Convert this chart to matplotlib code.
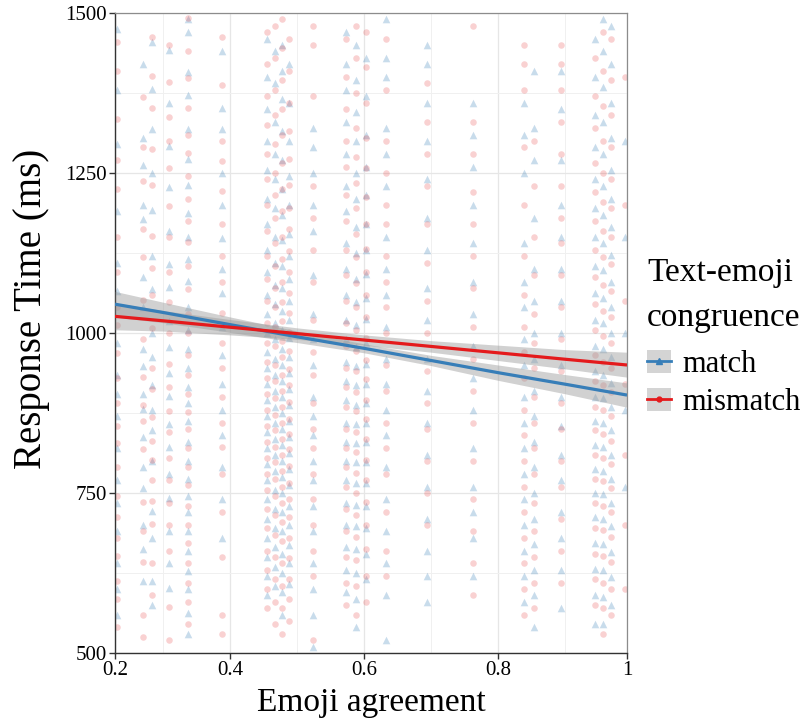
import numpy as np
import matplotlib
matplotlib.use("Agg")
import matplotlib.pyplot as plt
from matplotlib.patches import Patch
from matplotlib.lines import Line2D

plt.rcParams['font.family'] = ['Liberation Serif', 'DejaVu Serif']

# ---------------- data ----------------
x_min, x_max = 0.2277, 0.9924
x_tick_pos = [x_min, 0.4, 0.6, 0.8, x_max]
x_tick_labels = ["0.2", "0.4", "0.6", "0.8", "1"]
y_ticks = [500, 750, 1000, 1250, 1500]

col_x = [0.231, 0.270, 0.283, 0.309, 0.337, 0.388, 0.455, 0.466, 0.477, 0.487,
         0.523, 0.572, 0.587, 0.602, 0.632, 0.694, 0.763, 0.839, 0.854, 0.894,
         0.944, 0.956, 0.969, 0.990]

match_rt = [
    [1475, 1380, 1295, 1190, 1110, 1065, 985, 935, 905, 870, 820, 770, 735, 690, 640, 600, 560],
    [1420, 1305, 1262, 1200, 1178, 1088, 1040, 975, 948, 905, 882, 838, 790, 758, 700, 662, 612],
    [1455, 1382, 1318, 1250, 1192, 1120, 1068, 1000, 962, 918, 880, 848, 800, 722, 680, 612, 575],
    [1442, 1360, 1292, 1228, 1160, 1108, 1072, 1018, 978, 938, 902, 858, 822, 780, 742, 690, 640, 602],
    [1490, 1470, 1408, 1372, 1318, 1272, 1232, 1188, 1150, 1115, 1082, 1040, 1005, 975, 945, 915, 890,
     862, 830, 800, 772, 745, 720, 690, 660, 628, 600, 562, 530],
    [1440, 1352, 1318, 1250, 1200, 1148, 1100, 1062, 1010, 965, 920, 880, 840, 790, 740, 680],
    [1460, 1400, 1350, 1300, 1255, 1210, 1170, 1130, 1095, 1060, 1030, 1000, 970, 945, 920, 895, 870,
     845, 820, 795, 770, 740, 710, 680, 650, 620, 590],
    [1440, 1390, 1330, 1280, 1240, 1195, 1150, 1110, 1075, 1045, 1015, 990, 960, 935, 910, 885, 860,
     835, 810, 785, 755, 725, 695, 665, 635, 605],
    [1450, 1410, 1365, 1315, 1270, 1225, 1185, 1145, 1105, 1070, 1035, 1005, 975, 950, 925, 900, 875,
     850, 825, 800, 775, 750, 720, 690, 655, 625, 595, 560],
    [1420, 1360, 1300, 1245, 1200, 1155, 1120, 1085, 1050, 1020, 992, 962, 938, 912, 888, 862, 838,
     812, 788, 762, 730, 700, 668, 640, 608],
    [1320, 1290, 1250, 1200, 1160, 1090, 1030, 990, 950, 900, 870, 840, 800, 770, 730, 690, 640, 600, 560, 510],
    [1470, 1420, 1380, 1330, 1280, 1230, 1190, 1140, 1100, 1060, 1020, 990, 955, 925, 895, 860, 830,
     800, 770, 735, 700, 665, 630, 595],
    [1450, 1395, 1345, 1300, 1250, 1210, 1165, 1125, 1085, 1048, 1012, 978, 948, 918, 888, 858, 828,
     798, 765, 732, 698, 662, 625, 585, 540],
    [1430, 1370, 1310, 1260, 1215, 1170, 1130, 1092, 1055, 1022, 985, 952, 920, 890, 860, 830, 798,
     765, 730, 695, 655, 615],
    [1490, 1430, 1400, 1320, 1280, 1230, 1150, 1100, 1060, 1010, 960, 920, 880, 840, 790, 740, 690, 640, 590, 520],
    [1450, 1420, 1360, 1300, 1240, 1180, 1130, 1070, 1020, 960, 910, 860, 810, 760, 710, 660, 620, 580],
    [1360, 1310, 1260, 1200, 1140, 1080, 1030, 980, 930, 880, 820, 760, 720, 680, 620],
    [1360, 1310, 1250, 1140, 1080, 1040, 990, 950, 900, 860, 820, 780, 740, 700, 660, 620, 580],
    [1410, 1320, 1270, 1180, 1100, 1050, 1000, 960, 910, 870, 830, 790, 750, 710, 670, 630, 590, 540],
    [1410, 1350, 1270, 1200, 1150, 1100, 1050, 1000, 950, 900, 855, 810, 770, 720, 680, 630, 570],
    [1460, 1400, 1340, 1290, 1240, 1195, 1150, 1105, 1062, 1020, 980, 940, 900, 862, 825, 788, 750,
     712, 672, 632, 590, 545],
    [1490, 1440, 1385, 1330, 1280, 1230, 1185, 1140, 1098, 1055, 1015, 975, 935, 898, 860, 822, 785,
     748, 710, 670, 630, 588, 545],
    [1480, 1420, 1360, 1305, 1255, 1210, 1165, 1122, 1080, 1040, 1000, 962, 922, 885, 848, 810, 772,
     735, 698, 658, 618, 575],
    [1300, 1150, 1000, 880, 760],
]

mismatch_rt = [
    [1455, 1410, 1335, 1270, 1225, 1150, 1095, 1040, 1012, 968, 930, 890, 855, 828, 790, 745, 712, 680, 652, 612, 585, 540],
    [1368, 1290, 1238, 1162, 1118, 1052, 990, 932, 888, 862, 818, 736, 690, 642, 560, 525],
    [1462, 1402, 1352, 1288, 1232, 1152, 1102, 1060, 1008, 945, 912, 868, 832, 802, 770, 738, 702, 640, 590],
    [1450, 1392, 1338, 1300, 1258, 1198, 1150, 1095, 1048, 1000, 952, 915, 878, 845, 805, 770, 735, 700, 660, 572, 520],
    [1492, 1440, 1398, 1352, 1310, 1282, 1245, 1210, 1175, 1142, 1105, 1068, 1030, 1000, 966, 935, 905,
     876, 850, 820, 790, 762, 730, 700, 672, 640, 610, 580, 545],
    [1462, 1388, 1300, 1268, 1222, 1170, 1120, 1080, 1032, 985, 945, 900, 860, 822, 780, 720, 650, 560, 530],
    [1470, 1420, 1370, 1325, 1280, 1240, 1200, 1160, 1120, 1085, 1050, 1015, 985, 955, 930, 905, 880,
     855, 830, 805, 780, 755, 725, 695, 660, 630, 600, 570],
    [1480, 1430, 1380, 1340, 1295, 1250, 1215, 1180, 1140, 1105, 1070, 1040, 1010, 980, 950, 925, 898,
     872, 848, 822, 798, 772, 745, 715, 685, 650, 615, 580, 545],
    [1490, 1445, 1395, 1350, 1310, 1265, 1225, 1190, 1150, 1115, 1080, 1048, 1018, 988, 962, 935, 910,
     885, 860, 835, 810, 785, 760, 735, 705, 675, 640, 605, 570, 530],
    [1460, 1410, 1360, 1315, 1272, 1232, 1196, 1162, 1128, 1095, 1062, 1032, 1002, 972, 944, 918, 892,
     866, 842, 818, 792, 766, 740, 712, 680, 648, 615, 585, 550],
    [1480, 1450, 1370, 1230, 1180, 1130, 1080, 1020, 970, 935, 890, 850, 820, 780, 740, 700, 660, 620, 520],
    [1460, 1400, 1350, 1300, 1260, 1215, 1175, 1130, 1090, 1050, 1015, 980, 945, 915, 885, 850, 820,
     790, 760, 725, 690, 650, 610, 575],
    [1480, 1430, 1375, 1320, 1275, 1235, 1195, 1155, 1118, 1078, 1040, 1005, 972, 940, 908, 878, 846,
     814, 782, 750, 716, 682, 645, 605, 560],
    [1470, 1415, 1360, 1305, 1258, 1212, 1170, 1132, 1095, 1060, 1025, 992, 958, 928, 896, 866, 835,
     802, 770, 736, 700, 662, 620, 580],
    [1460, 1380, 1300, 1250, 1200, 1170, 1120, 1080, 1040, 1000, 950, 910, 860, 820, 780, 720, 660, 620],
    [1390, 1330, 1280, 1230, 1170, 1110, 1050, 1000, 940, 890, 850, 800, 750, 700],
    [1480, 1330, 1280, 1220, 1170, 1120, 1070, 1010, 960, 910, 860, 800, 740, 690, 640, 590],
    [1450, 1420, 1380, 1290, 1200, 1120, 1060, 1010, 970, 930, 880, 840, 800, 760, 720, 680, 640, 600, 560],
    [1300, 1230, 1150, 1090, 1030, 985, 945, 900, 860, 820, 780, 735, 690, 650, 610, 570],
    [1450, 1420, 1380, 1330, 1280, 1230, 1180, 1140, 1090, 1040, 990, 940, 890, 850, 800, 760, 710, 660, 610],
    [1430, 1370, 1320, 1265, 1220, 1175, 1130, 1088, 1045, 1005, 965, 925, 885, 848, 810, 772, 735,
     695, 655, 615, 575],
    [1470, 1410, 1355, 1300, 1250, 1205, 1160, 1118, 1075, 1035, 995, 955, 918, 880, 842, 805, 768,
     730, 692, 652, 610, 570, 530],
    [1460, 1395, 1340, 1290, 1240, 1195, 1150, 1108, 1066, 1025, 985, 945, 908, 870, 832, 795, 758,
     720, 682, 642, 600, 560],
    [1400, 1200, 1050, 920, 810, 700, 600],
]

# fitted regression lines and 95% CI
fit_x = [0.2277, 0.3, 0.4, 0.5, 0.6, 0.7, 0.8, 0.9, 0.9924]
match_fit = [1045, 1032, 1013, 994, 976, 957, 938, 920, 903]
match_lo = [1025, 1016, 1001, 985, 969, 949, 926, 905, 884]
match_hi = [1065, 1048, 1025, 1003, 983, 965, 950, 935, 922]
mismatch_fit = [1026, 1019, 1009, 999, 989, 979, 969, 959, 950]
mismatch_lo = [1005, 1003, 997, 990, 981, 970, 957, 944, 931]
mismatch_hi = [1047, 1035, 1021, 1008, 997, 988, 981, 974, 970]

blue = '#377EB8'
red = '#E41A1C'

# ---------------- figure ----------------
fig = plt.figure(figsize=(8.02, 7.24), dpi=100)
ax = fig.add_axes([115 / 802, (724 - 653) / 724, 512 / 802, 640 / 724])

for xv, ys in zip(col_x, match_rt):
    ax.scatter([xv] * len(ys), ys, marker='^', s=30, color=blue, alpha=0.27,
               linewidths=0, zorder=2)
for xv, ys in zip(col_x, mismatch_rt):
    ax.scatter([xv] * len(ys), ys, marker='o', s=22, color=red, alpha=0.2,
               linewidths=0, zorder=2)

ax.fill_between(fit_x, match_lo, match_hi, color='#999999', alpha=0.45, lw=0, zorder=3)
ax.fill_between(fit_x, mismatch_lo, mismatch_hi, color='#999999', alpha=0.45, lw=0, zorder=3)
ax.plot(fit_x, match_fit, color=blue, lw=2.3, zorder=4, solid_capstyle='butt')
ax.plot(fit_x, mismatch_fit, color=red, lw=2.3, zorder=4, solid_capstyle='butt')

ax.set_xlim(x_min, x_max)
ax.set_ylim(500, 1500)
ax.set_xticks(x_tick_pos)
ax.set_xticklabels(x_tick_labels)
ax.set_xticks([0.3, 0.5, 0.7, 0.9], minor=True)
ax.set_yticks(y_ticks)
ax.set_yticklabels([str(v) for v in y_ticks])
ax.set_yticks([625, 875, 1125, 1375], minor=True)
ax.tick_params(axis='both', which='major', labelsize=15, length=4, width=1,
               color='#333333', labelcolor='black', pad=2)
ax.tick_params(axis='both', which='minor', length=0)

ax.grid(True, which='major', color='#E6E6E6', lw=0.9, zorder=0)
ax.grid(True, which='minor', color='#F0F0F0', lw=0.7, zorder=0)
ax.set_axisbelow(True)

for s in ['top', 'right']:
    ax.spines[s].set_color('#8C8C8C')
    ax.spines[s].set_linewidth(0.9)
for s in ['left', 'bottom']:
    ax.spines[s].set_color('#333333')
    ax.spines[s].set_linewidth(1.0)

ax.set_xlabel('Emoji agreement', fontsize=24, labelpad=5)
ax.set_ylabel('Response Time (ms)', fontsize=28)
ax.yaxis.set_label_coords((50 - 115) / 512, (653 - 309) / 640)

key_fill = '#D4D4D4'
h_match = (Patch(facecolor=key_fill, edgecolor='none'),
           Line2D([], [], color=blue, lw=2, marker='^', markersize=4))
h_mis = (Patch(facecolor=key_fill, edgecolor='none'),
         Line2D([], [], color=red, lw=2, marker='o', markersize=3.5))
leg = ax.legend(handles=[h_match, h_mis], labels=['match', 'mismatch'],
                title='Text-emoji\ncongruence', loc='upper left',
                bbox_to_anchor=(647 / 802, 1 - 258 / 724), bbox_transform=fig.transFigure,
                frameon=False, fontsize=22, title_fontsize=24,
                handlelength=0.8, handleheight=0.78, handletextpad=0.35,
                labelspacing=0.3, borderaxespad=0, borderpad=0, alignment='left')
leg.get_title().set_linespacing(1.6)
leg._legend_box.sep = 12

fig.savefig('out.png', dpi=100)
